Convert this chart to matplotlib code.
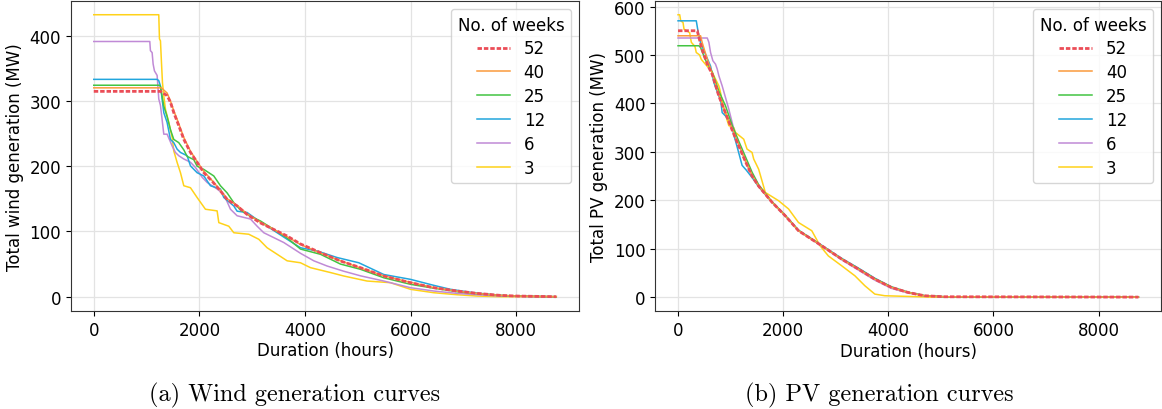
import matplotlib
matplotlib.use('Agg')
import matplotlib.pyplot as plt

plt.rcParams['font.family'] = 'DejaVu Sans'
plt.rcParams['font.size'] = 12

weeks = ['52', '40', '25', '12', '6', '3']
colors = ['#eb4d57', '#fb9a3c', '#43c443', '#22a6dd', '#c08ad6', '#ffd21a']

# --- wind duration curves (hours, MW) ---
wind_h = {
    '52': [0, 1263, 1389, 1452, 1515, 1610, 1705, 1831, 1957, 2084, 2241, 2399, 2526, 2715, 2904,
           3157, 3410, 3662, 3915, 4293, 4672, 5051, 5493, 5998, 6440, 6883, 7261, 7703, 8019, 8759],
    '40': [0, 1280, 1389, 1452, 1515, 1610, 1705, 1831, 1957, 2084, 2241, 2399, 2526, 2715, 2904,
           3157, 3410, 3662, 3915, 4293, 4672, 5051, 5493, 5998, 6440, 6883, 7261, 7703, 8019, 8759],
    '25': [0, 1244, 1263, 1326, 1389, 1452, 1515, 1610, 1705, 1768, 1894, 1957, 2084, 2273, 2399,
           2526, 2652, 2778, 2968, 3157, 3410, 3662, 3915, 4293, 4672, 5051, 5493, 5998, 6440, 6883,
           7261, 7703, 8208, 8759],
    '12': [0, 1200, 1231, 1263, 1326, 1389, 1452, 1515, 1579, 1642, 1768, 1831, 1957, 2084, 2210,
           2399, 2462, 2652, 2715, 2904, 3094, 3283, 3473, 3662, 3915, 4230, 4609, 5020, 5493, 5998,
           6440, 6756, 7198, 7703, 8019, 8759],
    '6': [0, 1061, 1073, 1105, 1124, 1149, 1200, 1231, 1263, 1282, 1326, 1389, 1484, 1547, 1610,
          1705, 1831, 1926, 2052, 2147, 2336, 2462, 2589, 2715, 2968, 3094, 3220, 3410, 3599, 3915,
          4167, 4420, 4736, 5051, 5493, 5998, 6440, 6882, 7261, 7703, 8208, 8759],
    '3': [0, 1231, 1244, 1263, 1282, 1301, 1326, 1358, 1421, 1484, 1515, 1579, 1642, 1705, 1831,
          1957, 2115, 2336, 2368, 2557, 2652, 2936, 3125, 3283, 3473, 3662, 3915, 4104, 4483, 4736,
          5177, 5619, 5998, 6440, 6882, 7261, 7703, 8759],
}
wind_mw = {
    '52': [314.6, 314.6, 308, 298, 282, 262, 241, 221, 206, 190, 177, 162, 149, 139, 126,
           113, 103, 93, 80.8, 67.5, 54.7, 44.5, 31.7, 21.5, 13.8, 8.7, 5.1, 2.0, 1.0, 0],
    '40': [320, 320, 312, 300, 285, 265, 244, 223, 207, 192, 178, 163, 150, 140, 127,
           114, 103, 92, 80, 67, 55, 44, 32, 22, 14, 8.5, 5, 2, 1, 0],
    '25': [324, 324, 322, 292, 276, 256, 241, 236, 225, 215, 210, 200, 195, 185, 170,
           159, 144, 133, 123, 116, 103, 90, 73, 65, 50, 42, 29, 19, 13, 7.7,
           4.6, 2, 0.5, 0],
    '12': [333, 333, 331, 323, 282, 267, 241, 236, 226, 221, 216, 200.5, 190, 185, 170,
           165, 152, 139, 131, 129, 118, 108, 98, 88, 75, 70, 60, 52, 34, 26.6,
           17.4, 11.3, 6.1, 2, 1, 0],
    '6': [391, 391, 377, 374, 356.5, 346, 339, 303, 293, 280, 249, 249, 231, 221, 216,
          211, 206, 198, 183, 175, 165, 157, 134, 124, 119, 108, 98, 90.5, 83, 66.5,
          55, 47, 39, 32, 24, 13.8, 8.7, 5.1, 3, 1, 0, 0],
    '3': [432, 432, 395, 392, 359, 328, 308, 287, 267, 244, 223.5, 205.6, 190, 170, 167,
          152, 134, 131.5, 113.5, 108, 98, 95.7, 88, 75, 65, 55, 52, 44.5, 37, 31.7,
          24, 21.5, 11.3, 6.1, 3, 1, 0, 0],
}

# --- PV duration curves (hours, MW) ---
pv_h = {
    '52': [0, 366, 400, 461, 560, 650, 777, 903, 1029, 1155, 1282, 1408, 1534, 1787, 2039,
           2292, 2734, 3113, 3429, 3744, 4060, 4376, 4691, 5070, 8759],
    '40': [0, 429, 461, 560, 650, 777, 903, 1029, 1155, 1282, 1408, 1534, 1787, 2039,
           2292, 2734, 3113, 3429, 3744, 4060, 4376, 4691, 5070, 8759],
    '25': [0, 398, 430, 520, 650, 777, 903, 1029, 1155, 1282, 1408, 1534, 1787, 2039,
           2292, 2734, 3113, 3429, 3744, 4060, 4376, 4691, 5070, 8759],
    '12': [0, 347, 385, 429, 524, 619, 682, 777, 808, 840, 903, 998, 1187, 1219, 1300, 1408,
           1534, 1787, 2039, 2292, 2734, 3113, 3429, 3744, 4060, 4376, 4691, 5070, 8759],
    '6': [0, 556, 587, 619, 663, 713, 745, 777, 840, 966, 1100, 1282, 1408, 1534, 1787, 2039,
          2292, 2734, 3113, 3429, 3744, 4060, 4376, 4691, 5070, 8759],
    '3': [0, 32, 51, 95, 114, 221, 253, 322, 347, 410, 442, 492, 575, 650, 714, 777, 808, 871,
          966, 1061, 1092, 1250, 1313, 1408, 1440, 1503, 1534, 1661, 1913, 2103, 2292, 2545,
          2702, 2860, 3113, 3365, 3555, 3744, 3934, 4376, 4818, 8759],
}
pv_mw = {
    '52': [550, 550, 535, 510, 480, 460, 415, 380, 345, 312, 280, 250, 229, 196, 168,
           137, 106, 78.5, 58, 37, 20, 9.6, 2.8, 0.7, 0],
    '40': [539.6, 539.6, 525, 490, 462, 418, 382, 348, 315, 282, 252, 229, 196, 168,
           137, 106, 78.5, 58, 37, 20, 9.6, 2.8, 0.7, 0],
    '25': [519, 519, 515, 490, 465, 425, 395, 355, 322, 290, 258, 232, 197, 169,
           138, 106, 79, 59, 38, 21, 10, 2.8, 0.7, 0],
    '12': [570.5, 570.5, 546, 525, 501, 477, 443, 415, 409, 381, 374, 361, 285, 272, 262, 247,
           228, 196, 168, 138, 107, 80, 60, 39, 21, 10, 3, 0.7, 0],
    '6': [535, 535, 526, 505, 488, 481, 471, 457, 436, 388, 330, 280, 250, 229, 196, 168,
          137, 105, 77, 56, 35, 18, 8.5, 2.5, 0.6, 0],
    '3': [583, 583, 570.5, 567, 553, 546, 526, 517.5, 505, 500, 491, 484.5, 474, 464, 450, 436,
          422.6, 388, 354, 350, 340, 326, 305.6, 298.7, 285, 271, 264, 216, 199, 182, 154, 137,
          106, 85, 64.7, 44, 23.4, 6.2, 2.8, 1.4, 0, 0],
}

fig = plt.figure(figsize=(11.62, 4.10), dpi=100)
ax1 = fig.add_axes([0.0608, 0.2395, 0.4378, 0.7565])
ax2 = fig.add_axes([0.5637, 0.2385, 0.4358, 0.7575])

for ax, hh, mm, ylab in [(ax1, wind_h, wind_mw, 'Total wind generation (MW)'),
                         (ax2, pv_h, pv_mw, 'Total PV generation (MW)')]:
    handles = {}
    # small-week runs first so the full-year reference ends up on top
    for w, c in reversed(list(zip(weeks, colors))):
        if w == '52':
            ln, = ax.plot(hh[w], mm[w], color=c, lw=2.0, ls=(0, (1.6, 0.7)), label=w, zorder=3)
        else:
            ln, = ax.plot(hh[w], mm[w], color=c, lw=1.1, label=w, zorder=2)
        handles[w] = ln
    ax.grid(True, color='#e3e3e3', lw=0.9)
    ax.set_axisbelow(True)
    ax.set_xlabel('Duration (hours)', labelpad=2)
    ax.set_ylabel(ylab)
    ax.set_xticks([0, 2000, 4000, 6000, 8000])
    ax.legend([handles[w] for w in weeks], weeks, title='No. of weeks',
              loc='upper right', fontsize=12, title_fontsize=12, labelspacing=0.35)
    for s in ax.spines.values():
        s.set_color('#333333')

ax1.set_yticks([0, 100, 200, 300, 400])
ax2.set_yticks([0, 100, 200, 300, 400, 500, 600])

fig.text(0.2535, 0.036, '(a) Wind generation curves', family='cmr10', fontsize=17.5,
         ha='center', va='center')
fig.text(0.757, 0.036, '(b) PV generation curves', family='cmr10', fontsize=17.5,
         ha='center', va='center')

fig.savefig('out.png', dpi=100)
